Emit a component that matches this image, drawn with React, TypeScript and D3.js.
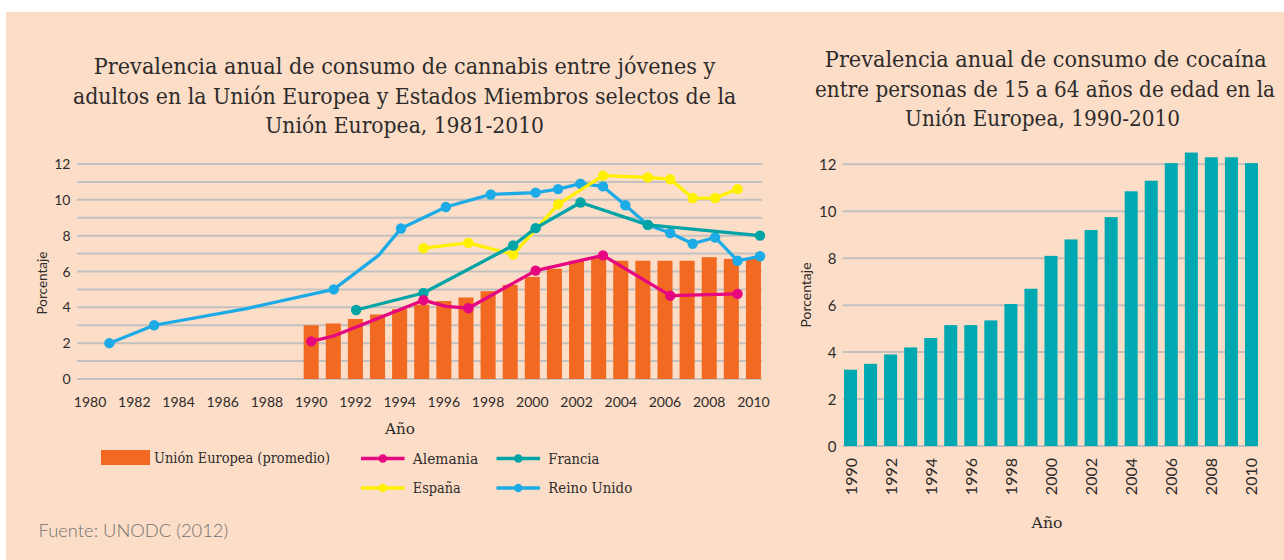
import React, { useLayoutEffect, useRef, useState } from "react";
import * as d3 from "d3";

// ---------- DATA ----------
const axisYears = [1980,1981,1982,1983,1984,1985,1986,1987,1988,1989,1990,1991,1992,1993,1994,1995,1996,1997,1998,1999,2000,2001,2002,2003,2004,2005,2006,2007,2008,2009,2010];
const axisLabelYears = [1980,1982,1984,1986,1988,1990,1992,1994,1996,1998,2000,2002,2004,2006,2008,2010];
const yTicksLeft = [0,2,4,6,8,10,12];
const yGridLeft = [0,1,2,3,4,5,6,7,8,9,10,11,12];

const euYears = [1990,1991,1992,1993,1994,1995,1996,1997,1998,1999,2000,2001,2002,2003,2004,2005,2006,2007,2008,2009,2010];
const euValues = [3.0,3.1,3.35,3.6,3.9,4.15,4.35,4.55,4.9,5.25,5.7,6.15,6.6,6.75,6.6,6.6,6.6,6.6,6.8,6.7,6.7];

const ukYears = [1981,1983,1987,1991,1993,1994,1996,1998,2000,2001,2002,2003,2004,2005,2006,2007,2008,2009,2010];
const ukValues = [2.0,3.0,3.9,5.0,6.9,8.4,9.6,10.3,10.4,10.6,10.9,10.75,9.7,8.6,8.15,7.55,7.9,6.6,6.85];
const ukMarked = [1,1,0,1,0,1,1,1,1,1,1,1,1,1,1,1,1,1,1];

const frYears = [1992,1995,1999,2000,2002,2005,2010];
const frValues = [3.85,4.8,7.45,8.42,9.85,8.6,8.0];
const frMarked = [1,1,1,1,1,1,1];

const esYears = [1995,1997,1999,2001,2003,2005,2006,2007,2008,2009];
const esValues = [7.3,7.6,6.95,9.75,11.35,11.25,11.15,10.1,10.1,10.6];
const esMarked = [1,1,1,1,1,1,1,1,1,1];

const deYears = [1990,1991,1995,1996,1997,2000,2003,2006,2009];
const deValues = [2.1,2.4,4.4,4.05,3.95,6.05,6.9,4.65,4.75];
const deMarked = [1,0,1,0,1,1,1,1,1];

const cocaYears = [1990,1991,1992,1993,1994,1995,1996,1997,1998,1999,2000,2001,2002,2003,2004,2005,2006,2007,2008,2009,2010];
const cocaValues = [3.25,3.5,3.9,4.2,4.6,5.15,5.15,5.35,6.05,6.7,8.1,8.8,9.2,9.75,10.85,11.3,12.05,12.5,12.3,12.3,12.05];
const cocaLabelYears = [1990,1992,1994,1996,1998,2000,2002,2004,2006,2008,2010];
const yTicksRight = [0,2,4,6,8,10,12];

const titleLeft = [
  "Prevalencia anual de consumo de cannabis entre jóvenes y",
  "adultos en la Unión Europea y Estados Miembros selectos de la",
  "Unión Europea, 1981-2010",
];
const titleRight = [
  "Prevalencia anual de consumo de cocaína",
  "entre personas de 15 a 64 años de edad en la",
  "Unión Europea, 1990-2010",
];

// ---------- STYLE ----------
const BG = "#FCDEC8";
const GRID = "#C3C0C0";
const TXT = "#2E2B2B";
const ORANGE = "#F26A21";
const MAGENTA = "#E6067F";
const TEAL = "#00A3A6";
const YELLOW = "#FFF000";
const BLUE = "#1CABE6";
const TEAL_BAR = "#00A9B2";
const SERIF = "'DejaVu Serif', serif";
const SANS = "Lato, 'Open Sans', sans-serif";

// Text squeezed horizontally to a target width (anchor: start | middle)
function FitText(props: { x: number; y: number; width: number; anchor?: "start" | "middle"; size: number; family: string; fill: string; weight?: number; children: string }) {
  const ref = useRef<SVGTextElement>(null);
  const [sx, setSx] = useState(1);
  useLayoutEffect(() => {
    if (ref.current) {
      const w = ref.current.getComputedTextLength();
      if (w > 0) setSx(props.width / w);
    }
  }, [props.children, props.width, props.size]);
  return (
    <text ref={ref} transform={`translate(${props.x},${props.y}) scale(${sx},1)`} textAnchor={props.anchor || "start"}
      fontFamily={props.family} fontSize={props.size} fontWeight={props.weight} fill={props.fill}>{props.children}</text>
  );
}

export default function App() {
  // left chart scales
  const yL = d3.scaleLinear().domain([0, 12]).range([379, 164]);
  const xBand = d3.scaleBand<number>().domain(axisYears).range([79, 764.5]).paddingInner(0.32).paddingOuter(0.16);
  const xLine = d3.scaleLinear().domain([1980, 2010]).range([86.9, 760]);

  // right chart scales
  const yR = d3.scaleLinear().domain([0, 12]).range([446, 164.3]);
  const xR = d3.scaleBand<number>().domain(cocaYears).range([840.5, 1261.5]).paddingInner(0.35).paddingOuter(0.175);

  const series = [
    { name: "Reino Unido", years: ukYears, values: ukValues, marked: ukMarked, color: BLUE },
    { name: "España", years: esYears, values: esValues, marked: esMarked, color: YELLOW },
    { name: "Francia", years: frYears, values: frValues, marked: frMarked, color: TEAL },
    { name: "Alemania", years: deYears, values: deValues, marked: deMarked, color: MAGENTA },
  ];

  const legendLines = [
    { name: "Alemania", color: MAGENTA, x: 361, y: 458.5, w: 65.5 },
    { name: "Francia", color: TEAL, x: 496.5, y: 458.5, w: 51 },
    { name: "España", color: YELLOW, x: 361, y: 488, w: 48 },
    { name: "Reino Unido", color: BLUE, x: 496.5, y: 488, w: 84 },
  ];

  return (
    <svg width={1284} height={560} style={{ position: "absolute", left: 0, top: 0 }}>
      <rect x={0} y={0} width={1284} height={560} fill="#ffffff" />
      <rect x={6} y={12} width={1278} height={548} fill={BG} />

      {/* ===== LEFT CHART ===== */}
      {titleLeft.map((t, i) => (
        <FitText key={i} x={404.6} y={74 + i * 29.5} anchor="middle" family={SERIF} size={22} fill={TXT}
          width={[622, 664, 279][i]}>{t}</FitText>
      ))}

      {yGridLeft.map((v) => (
        <line key={v} x1={77} x2={762} y1={yL(v)} y2={yL(v)} stroke={GRID} strokeWidth={2} />
      ))}
      {yTicksLeft.map((v) => (
        <text key={v} x={70.5} y={yL(v) + 5} textAnchor="end" fontFamily={SANS} fontSize={14} fill={TXT}>{v}</text>
      ))}
      <text transform={`translate(47,283) rotate(-90)`} textAnchor="middle" fontFamily={SANS} fontSize={13.5} fill={TXT}>Porcentaje</text>

      {euYears.map((yr, i) => (
        <rect key={yr} x={xBand(yr)} width={xBand.bandwidth()} y={yL(euValues[i])} height={yL(0) - yL(euValues[i])} fill={ORANGE} />
      ))}

      {series.map((s) => {
        const pts = s.years.map((yr, i) => [xLine(yr), yL(s.values[i])] as [number, number]);
        const path = d3.line()(pts) || "";
        return (
          <g key={s.name}>
            <path d={path} fill="none" stroke={s.color} strokeWidth={3.3} strokeLinejoin="round" />
            {pts.map((p, i) => s.marked[i] ? <circle key={i} cx={p[0]} cy={p[1]} r={5.2} fill={s.color} /> : null)}
          </g>
        );
      })}

      {axisLabelYears.map((yr) => (
        <text key={yr} x={(xBand(yr) || 0) + xBand.bandwidth() / 2} y={407} textAnchor="middle" fontFamily={SANS} fontSize={14} fill={TXT}>{yr}</text>
      ))}
      <FitText x={400} y={434} anchor="middle" family={SERIF} size={14.5} fill={TXT} width={30}>Año</FitText>

      {/* legend */}
      <rect x={101} y={450} width={49} height={15} fill={ORANGE} />
      <FitText x={154} y={463} family={SERIF} size={14.5} fill={TXT} width={176}>Unión Europea (promedio)</FitText>
      {legendLines.map((l) => (
        <g key={l.name}>
          <line x1={l.x} x2={l.x + 43.6} y1={l.y} y2={l.y} stroke={l.color} strokeWidth={3.3} />
          <circle cx={l.x + 21.8} cy={l.y} r={4.2} fill={l.color} />
          <FitText x={l.x + 51.8} y={l.y + 5} family={SERIF} size={14.5} fill={TXT} width={l.w}>{l.name}</FitText>
        </g>
      ))}

      <FitText x={38.5} y={537} family={SANS} weight={300} size={17} fill="#727272" width={190}>Fuente: UNODC (2012)</FitText>

      {/* ===== RIGHT CHART ===== */}
      {titleRight.map((t, i) => (
        <FitText key={i} x={[1045.8, 1045, 1042.5][i]} y={67 + i * 29.5} anchor="middle" family={SERIF} size={22} fill={TXT}
          width={[442, 460, 275][i]}>{t}</FitText>
      ))}
      {yTicksRight.map((v) => (
        <line key={v} x1={842.7} x2={1258} y1={yR(v)} y2={yR(v)} stroke={GRID} strokeWidth={2} />
      ))}
      {yTicksRight.map((v) => (
        <text key={v} x={836.5} y={yR(v) + 5.5} textAnchor="end" fontFamily={SANS} fontSize={15} fill={TXT}>{v}</text>
      ))}
      <text transform={`translate(811,295) rotate(-90)`} textAnchor="middle" fontFamily={SANS} fontSize={14} fill={TXT}>Porcentaje</text>

      {cocaYears.map((yr, i) => (
        <rect key={yr} x={xR(yr)} width={xR.bandwidth()} y={yR(cocaValues[i])} height={yR(0) - yR(cocaValues[i])} fill={TEAL_BAR} />
      ))}

      {cocaLabelYears.map((yr) => {
        const cx = (xR(yr) || 0) + xR.bandwidth() / 2;
        return (
          <text key={yr} transform={`translate(${cx + 6},458) rotate(-90)`} textAnchor="end" fontFamily={SANS} fontSize={16} fill={TXT}>{yr}</text>
        );
      })}
      <FitText x={1047} y={528} anchor="middle" family={SERIF} size={15} fill={TXT} width={31}>Año</FitText>
    </svg>
  );
}
